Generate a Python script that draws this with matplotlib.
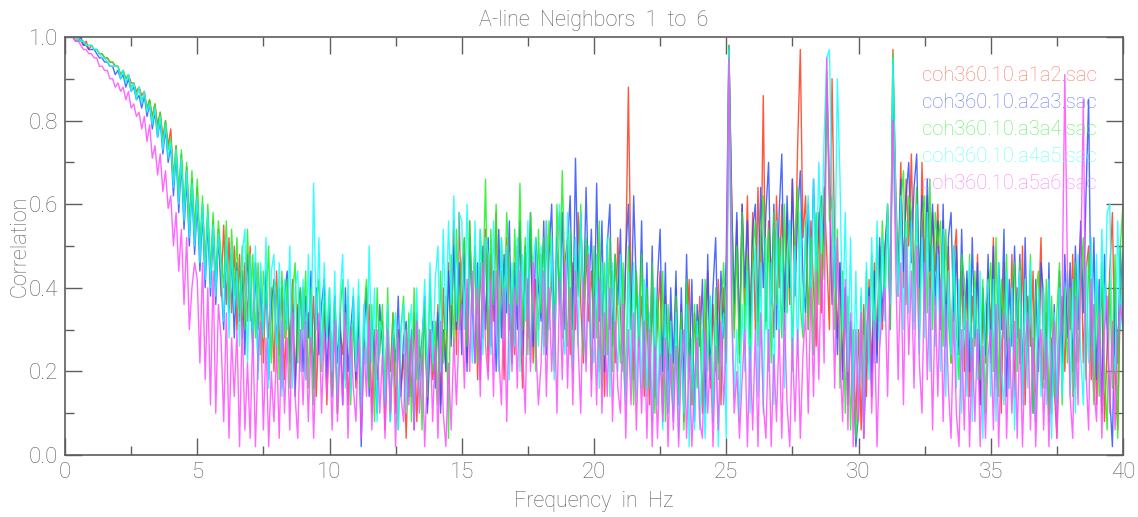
import numpy as np
import matplotlib
matplotlib.use("Agg")
import matplotlib.pyplot as plt
from matplotlib.ticker import MultipleLocator, FormatStrFormatter

# Coherence between neighbouring A-line stations, sampled every 0.1 Hz (values in percent)
freq = np.linspace(0.0, 40.0, 401)

coh_a1a2 = [
    100, 100, 100, 100, 100, 99, 99, 98, 99, 97,
    98, 97, 97, 96, 96, 95, 95, 94, 94, 93,
    93, 91, 92, 90, 91, 89, 89, 87, 88, 86,
    87, 83, 85, 81, 84, 79, 82, 76, 80, 74,
    78, 66, 74, 62, 72, 58, 69, 55, 66, 52,
    64, 48, 60, 45, 58, 42, 56, 40, 54, 38,
    55, 36, 52, 34, 50, 30, 48, 28, 46, 32,
    50, 26, 46, 30, 44, 22, 42, 28, 40, 20,
    44, 24, 40, 18, 38, 26, 42, 16, 36, 22,
    40, 18, 34, 24, 38, 14, 32, 26, 36, 12,
    34, 20, 38, 10, 30, 24, 36, 12, 28, 32,
    16, 34, 8, 28, 22, 36, 10, 30, 18, 26,
    32, 6, 26, 20, 34, 10, 30, 16, 24, 4,
    28, 14, 34, 8, 26, 20, 36, 12, 30, 18,
    24, 36, 12, 40, 20, 46, 28, 56, 24, 58,
    30, 52, 22, 56, 34, 50, 18, 46, 28, 54,
    20, 48, 32, 58, 26, 44, 18, 52, 30, 40,
    24, 50, 34, 16, 46, 28, 54, 22, 42, 30,
    48, 26, 56, 32, 44, 20, 50, 58, 28, 46,
    52, 24, 46, 30, 58, 36, 22, 50, 32, 44,
    28, 48, 20, 42, 14, 50, 30, 44, 22, 52,
    34, 20, 46, 88, 40, 18, 44, 26, 38, 14,
    36, 12, 40, 16, 32, 44, 10, 38, 20, 34,
    14, 40, 18, 36, 8, 30, 42, 12, 34, 22,
    38, 10, 30, 44, 16, 36, 20, 42, 12, 40,
    22, 97, 64, 30, 56, 24, 60, 36, 62, 28,
    58, 30, 64, 38, 86, 32, 56, 44, 28, 62,
    40, 60, 30, 58, 36, 66, 42, 74, 97, 52,
    62, 30, 56, 40, 26, 58, 34, 64, 48, 30,
    90, 50, 28, 46, 20, 40, 14, 32, 24, 8,
    30, 6, 36, 14, 42, 20, 46, 24, 50, 30,
    48, 60, 34, 97, 66, 44, 70, 40, 66, 50,
    72, 38, 64, 30, 70, 46, 62, 36, 58, 44,
    60, 34, 56, 28, 50, 22, 46, 54, 26, 44,
    20, 42, 14, 38, 26, 48, 12, 36, 22, 44,
    30, 52, 16, 40, 10, 46, 28, 20, 48, 14,
    40, 22, 50, 12, 38, 26, 44, 8, 34, 52,
    18, 34, 10, 28, 16, 4, 26, 38, 20, 42,
    30, 48, 16, 40, 54, 22, 44, 50, 18, 36,
    12, 30, 40, 8, 26, 44, 58, 20, 6, 38,
    48,
]

coh_a2a3 = [
    100, 100, 100, 100, 99, 99, 100, 98, 98, 97,
    97, 97, 96, 95, 95, 94, 94, 93, 93, 91,
    92, 90, 91, 88, 90, 87, 88, 85, 86, 83,
    86, 81, 84, 78, 82, 76, 80, 72, 78, 70,
    74, 62, 72, 58, 70, 54, 66, 50, 64, 48,
    60, 44, 58, 40, 56, 38, 54, 36, 52, 42,
    30, 50, 34, 48, 28, 46, 32, 44, 24, 48,
    38, 26, 46, 20, 40, 30, 44, 18, 36, 42,
    26, 40, 16, 38, 44, 22, 36, 14, 34, 40,
    20, 38, 28, 44, 16, 40, 24, 36, 42, 18,
    36, 14, 38, 22, 34, 12, 40, 20, 30, 38,
    18, 34, 2, 28, 40, 14, 32, 24, 10, 36,
    26, 12, 34, 8, 30, 22, 38, 14, 28, 32,
    14, 30, 6, 34, 18, 28, 38, 10, 26, 32,
    16, 34, 10, 30, 20, 44, 26, 50, 30, 46,
    24, 48, 20, 52, 34, 22, 46, 18, 50, 30,
    52, 26, 44, 20, 54, 28, 48, 34, 56, 22,
    46, 30, 56, 24, 50, 36, 58, 26, 52, 40,
    32, 56, 24, 48, 60, 28, 52, 36, 58, 30,
    50, 62, 30, 71, 40, 58, 34, 64, 38, 54,
    28, 65, 32, 56, 20, 50, 60, 26, 48, 36,
    54, 24, 48, 60, 30, 62, 40, 28, 56, 22,
    46, 18, 50, 14, 42, 54, 20, 46, 10, 40,
    22, 44, 12, 40, 16, 48, 20, 42, 8, 36,
    26, 42, 10, 48, 18, 40, 52, 22, 44, 28,
    48, 98, 62, 36, 58, 28, 60, 40, 56, 30,
    54, 60, 32, 64, 40, 58, 70, 36, 60, 30,
    58, 72, 34, 62, 40, 66, 38, 58, 68, 42,
    34, 60, 40, 66, 44, 56, 62, 50, 90, 64,
    36, 50, 24, 46, 18, 40, 12, 32, 20, 2,
    10, 34, 4, 26, 40, 14, 44, 22, 52, 32,
    50, 58, 30, 90, 60, 38, 66, 44, 62, 70,
    46, 64, 72, 40, 62, 34, 66, 44, 60, 36,
    56, 30, 60, 26, 52, 58, 32, 50, 24, 54,
    30, 44, 20, 52, 28, 46, 12, 40, 24, 48,
    22, 50, 18, 46, 30, 54, 14, 42, 26, 50,
    28, 48, 16, 52, 24, 44, 10, 42, 20, 46,
    38, 16, 46, 10, 36, 8, 44, 22, 48, 28,
    46, 20, 50, 30, 56, 34, 62, 85, 26, 52,
    18, 42, 10, 48, 30, 14, 2, 40, 22, 50,
    30,
]

coh_a3a4 = [
    100, 100, 100, 100, 100, 100, 99, 99, 98, 98,
    98, 97, 97, 96, 96, 95, 95, 94, 94, 93,
    93, 91, 92, 90, 91, 88, 89, 86, 88, 85,
    86, 83, 85, 80, 84, 78, 82, 75, 80, 73,
    76, 66, 74, 63, 73, 59, 70, 56, 68, 54,
    66, 50, 62, 46, 60, 44, 58, 42, 56, 48,
    40, 56, 36, 54, 38, 52, 34, 50, 30, 54,
    32, 48, 28, 46, 24, 44, 36, 50, 22, 42,
    40, 18, 44, 28, 42, 16, 38, 46, 22, 40,
    30, 44, 16, 40, 12, 36, 42, 20, 38, 28,
    40, 14, 36, 10, 34, 42, 18, 38, 12, 32,
    22, 38, 12, 34, 42, 16, 36, 8, 40, 24,
    36, 14, 40, 10, 34, 20, 6, 30, 38, 16,
    34, 8, 40, 18, 30, 6, 36, 14, 42, 20,
    32, 12, 44, 22, 38, 4, 48, 26, 54, 30,
    46, 52, 26, 56, 34, 50, 22, 54, 40, 66,
    26, 54, 36, 60, 24, 52, 32, 58, 44, 22,
    54, 36, 65, 30, 52, 24, 58, 40, 20, 54,
    34, 52, 26, 56, 44, 28, 60, 36, 68, 42,
    26, 54, 20, 48, 38, 60, 24, 52, 44, 18,
    50, 28, 56, 16, 46, 24, 52, 20, 48, 34,
    22, 46, 14, 50, 34, 12, 44, 26, 48, 16,
    40, 16, 46, 10, 38, 22, 44, 8, 36, 18,
    10, 38, 14, 34, 6, 42, 24, 12, 36, 16,
    34, 12, 42, 20, 38, 8, 40, 18, 32, 46,
    26, 98, 56, 28, 50, 22, 58, 30, 48, 24,
    48, 56, 26, 52, 62, 30, 54, 22, 58, 36,
    52, 28, 60, 34, 56, 24, 52, 64, 36, 28,
    56, 30, 52, 24, 58, 36, 62, 42, 92, 56,
    62, 30, 54, 16, 44, 10, 38, 6, 30, 4,
    12, 38, 16, 44, 22, 48, 28, 52, 32, 56,
    40, 60, 30, 96, 64, 38, 60, 68, 36, 62,
    58, 32, 64, 28, 56, 62, 34, 66, 30, 58,
    50, 56, 26, 54, 32, 22, 50, 30, 18, 48,
    42, 20, 48, 14, 44, 26, 18, 42, 10, 38,
    46, 20, 52, 14, 42, 28, 48, 16, 40, 46,
    20, 46, 14, 42, 22, 48, 10, 38, 44, 18,
    16, 42, 8, 38, 14, 34, 46, 12, 40, 22,
    40, 14, 46, 22, 42, 52, 18, 48, 28, 12,
    42, 14, 46, 20, 6, 42, 16, 48, 4, 50,
    60,
]

coh_a4a5 = [
    100, 100, 100, 100, 100, 99, 99, 99, 98, 98,
    98, 97, 97, 96, 95, 95, 94, 93, 93, 93,
    93, 90, 92, 89, 91, 87, 89, 85, 88, 84,
    87, 82, 84, 79, 83, 76, 81, 73, 79, 71,
    75, 64, 73, 60, 71, 56, 68, 52, 65, 50,
    62, 46, 60, 42, 58, 40, 55, 38, 53, 44,
    32, 52, 28, 50, 34, 44, 26, 48, 54, 22,
    48, 24, 50, 18, 46, 28, 52, 16, 44, 48,
    22, 46, 14, 42, 30, 50, 16, 40, 44, 20,
    42, 18, 48, 26, 65, 30, 52, 22, 46, 28,
    40, 20, 44, 12, 38, 48, 16, 42, 14, 40,
    20, 42, 10, 36, 18, 50, 22, 40, 8, 32,
    30, 12, 36, 8, 28, 34, 6, 30, 36, 10,
    28, 36, 8, 40, 14, 26, 42, 18, 46, 22,
    42, 50, 20, 54, 30, 56, 36, 62, 32, 58,
    56, 30, 60, 36, 22, 56, 32, 54, 24, 52,
    48, 24, 56, 30, 20, 52, 28, 50, 18, 46,
    26, 52, 20, 48, 32, 56, 22, 46, 52, 26,
    50, 24, 56, 30, 52, 18, 48, 60, 30, 24,
    58, 34, 20, 52, 26, 58, 32, 22, 50, 28,
    22, 48, 16, 46, 24, 52, 14, 46, 30, 20,
    48, 22, 12, 44, 18, 46, 14, 38, 16, 42,
    14, 34, 8, 40, 12, 30, 6, 36, 10, 32,
    8, 34, 4, 30, 10, 36, 2, 28, 6, 32,
    6, 30, 4, 26, 38, 8, 32, 2, 26, 34,
    4, 97, 40, 14, 30, 8, 36, 20, 44, 10,
    40, 50, 14, 46, 10, 52, 20, 46, 12, 56,
    26, 52, 16, 46, 56, 20, 50, 24, 58, 30,
    52, 62, 34, 66, 40, 70, 48, 76, 95, 97,
    64, 40, 90, 66, 30, 58, 20, 52, 14, 44,
    10, 40, 6, 46, 18, 52, 22, 56, 26, 52,
    32, 60, 36, 95, 64, 38, 62, 30, 56, 34,
    56, 30, 60, 24, 52, 28, 58, 20, 50, 26,
    48, 20, 54, 14, 44, 24, 50, 16, 42, 10,
    38, 14, 46, 8, 40, 18, 44, 4, 36, 42,
    14, 42, 8, 46, 20, 12, 44, 16, 40, 6,
    36, 44, 12, 42, 16, 46, 22, 8, 40, 14,
    40, 12, 42, 4, 34, 10, 40, 14, 36, 44,
    14, 42, 10, 48, 24, 12, 46, 22, 52, 20,
    48, 22, 54, 30, 58, 60, 26, 20, 56, 30,
    48,
]

coh_a5a6 = [
    100, 100, 100, 100, 99, 99, 98, 97, 97, 96,
    96, 95, 95, 93, 93, 92, 92, 90, 90, 88,
    89, 87, 88, 85, 87, 83, 84, 81, 82, 78,
    81, 75, 79, 71, 74, 67, 72, 63, 68, 59,
    62, 50, 58, 44, 54, 36, 52, 30, 40, 46,
    42, 22, 46, 18, 40, 12, 44, 10, 36, 28,
    8, 34, 4, 28, 14, 30, 2, 32, 6, 22,
    4, 30, 2, 24, 32, 6, 28, 2, 20, 8,
    26, 4, 32, 10, 28, 6, 34, 14, 4, 30,
    12, 32, 8, 28, 4, 24, 34, 10, 30, 14,
    28, 6, 32, 8, 26, 12, 34, 4, 30, 16,
    8, 28, 4, 26, 14, 32, 6, 22, 30, 10,
    24, 4, 30, 10, 26, 2, 28, 14, 8, 30,
    12, 28, 6, 32, 10, 24, 2, 20, 30, 8,
    26, 4, 32, 10, 2, 22, 6, 28, 12, 30,
    36, 16, 42, 20, 44, 22, 40, 14, 46, 26,
    18, 42, 14, 44, 24, 12, 40, 8, 36, 20,
    40, 16, 44, 24, 10, 42, 20, 46, 26, 12,
    22, 44, 14, 40, 20, 36, 10, 42, 18, 46,
    16, 40, 12, 44, 26, 10, 42, 20, 48, 14,
    38, 12, 42, 10, 34, 14, 40, 8, 32, 16,
    10, 36, 4, 30, 12, 34, 6, 28, 10, 32,
    4, 30, 2, 26, 4, 24, 8, 28, 2, 24,
    6, 26, 2, 22, 30, 4, 24, 2, 18, 28,
    8, 4, 30, 10, 24, 2, 26, 6, 32, 12,
    26, 95, 36, 10, 20, 4, 18, 30, 2, 26,
    6, 30, 2, 34, 12, 4, 30, 2, 24, 8,
    30, 4, 34, 12, 2, 28, 8, 30, 4, 24,
    34, 10, 40, 14, 44, 18, 48, 22, 95, 64,
    46, 16, 52, 24, 8, 42, 6, 34, 2, 30,
    8, 34, 4, 30, 38, 10, 32, 2, 26, 34,
    40, 14, 44, 80, 48, 18, 46, 12, 52, 24,
    44, 16, 50, 22, 10, 46, 18, 40, 6, 38,
    14, 42, 8, 36, 16, 4, 34, 10, 2, 30,
    6, 32, 2, 28, 8, 30, 2, 26, 4, 24,
    30, 6, 36, 2, 26, 34, 4, 28, 10, 32,
    4, 30, 2, 26, 34, 6, 28, 2, 24, 30,
    6, 28, 2, 24, 32, 4, 26, 38, 91, 44,
    14, 4, 38, 12, 44, 85, 20, 6, 42, 16,
    8, 34, 4, 30, 38, 10, 32, 6, 28, 36,
    30,
]

labels = ["coh360.10.a1a2.sac", "coh360.10.a2a3.sac", "coh360.10.a3a4.sac",
          "coh360.10.a4a5.sac", "coh360.10.a5a6.sac"]
series = [coh_a1a2, coh_a2a3, coh_a3a4, coh_a4a5, coh_a5a6]
line_colors = ["#ff3a1a", "#3050ff", "#1cf01c", "#10ffff", "#ff4cff"]
text_colors = ["#ff7560", "#6878ff", "#5cf05c", "#60ffff", "#ff80ff"]

plt.rcParams["font.family"] = ["Roboto", "DejaVu Sans"]
grey = "#5e5e5e"

fig = plt.figure(figsize=(11.38, 5.17), dpi=100)
ax = fig.add_axes([65 / 1138, 62 / 517, 1058 / 1138, 418 / 517])

for vals, col in zip(series, line_colors):
    ax.plot(freq, np.array(vals) / 100.0, color=col, lw=1.0, alpha=0.85)

# station pair names, stacked in the upper right
for i, (lab, col) in enumerate(zip(labels, text_colors)):
    ax.text(0.81, 0.909 - i * 0.0646, lab, transform=ax.transAxes, color=col,
            fontsize=14.5, fontweight="light", va="center", ha="left")

ax.set_xlim(0, 40)
ax.set_ylim(0, 1.0)
ax.xaxis.set_major_locator(MultipleLocator(5))
ax.xaxis.set_minor_locator(MultipleLocator(2.5))
ax.yaxis.set_major_locator(MultipleLocator(0.2))
ax.yaxis.set_minor_locator(MultipleLocator(0.1))
ax.yaxis.set_major_formatter(FormatStrFormatter("%.1f"))
ax.tick_params(which="both", direction="in", top=True, right=True,
               colors=grey, labelcolor=grey, labelsize=16)
ax.tick_params(which="major", length=12.5, width=1.0, pad=5)
ax.tick_params(which="minor", length=6.5, width=1.0)
for lab in ax.get_xticklabels() + ax.get_yticklabels():
    lab.set_fontweight("light")
for sp in ax.spines.values():
    sp.set_color(grey)
    sp.set_linewidth(1.2)

ax.set_title("A-line  Neighbors  1  to  6", color=grey, fontsize=15.5,
             fontweight="light", pad=8)
ax.set_xlabel("Frequency  in  Hz", color=grey, fontsize=15.5,
              fontweight="light", labelpad=6)
ax.set_ylabel("Correlation", color=grey, fontsize=15.5, fontweight="light")
ax.yaxis.set_label_coords(-0.033, 0.5)

fig.savefig("out.png", dpi=100)
